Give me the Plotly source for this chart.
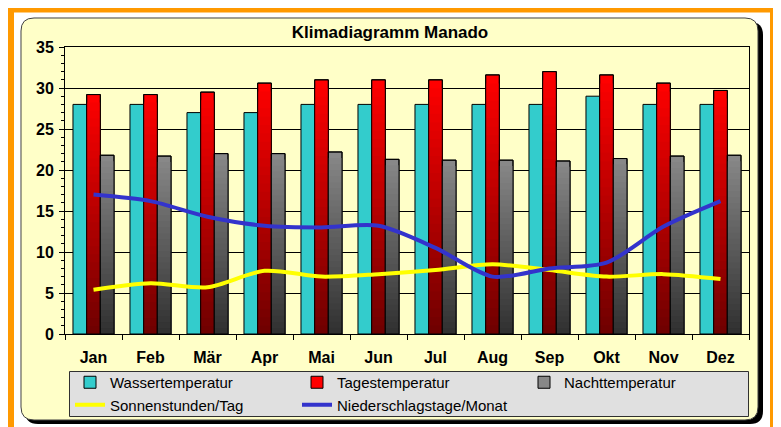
import plotly.graph_objects as go

# ---------------- data ----------------
months = ["Jan", "Feb", "Mär", "Apr", "Mai", "Jun", "Jul", "Aug", "Sep", "Okt", "Nov", "Dez"]
wassertemperatur = [28, 28, 27, 27, 28, 28, 28, 28, 28, 29, 28, 28]
tagestemperatur = [29.2, 29.2, 29.5, 30.6, 31, 31, 31, 31.6, 32, 31.6, 30.6, 29.7]
nachttemperatur = [21.8, 21.7, 22.0, 22.0, 22.2, 21.3, 21.2, 21.2, 21.1, 21.4, 21.7, 21.8]
sonnenstunden = [5.4, 6.2, 5.7, 7.7, 7.0, 7.3, 7.8, 8.5, 7.8, 7.0, 7.3, 6.7]
niederschlagstage = [17.0, 16.2, 14.3, 13.2, 13.0, 13.2, 10.5, 7.0, 8.0, 8.7, 13.1, 16.2]

# ---------------- layout geometry ----------------
# the page body has an 8px margin; design in page pixels and shift
OFF = 8
W, H = 781 - OFF, 427 - OFF
PL, PT, PR, PB = 65, 47, 749, 334  # plot area in page pixels
L, T = PL - OFF, PT - OFF
PW, PH = PR - PL, PB - PT
R, B = W - L - PW, H - T - PH


def px_x(px):
    return (px - PL) / PW


def px_y(py):
    return (PB - py) / PH


def rrect(x0, y0, x1, y1, r):
    pts = [
        ("M", [(x0 + r, y0)]),
        ("L", [(x1 - r, y0)]),
        ("Q", [(x1, y0), (x1, y0 + r)]),
        ("L", [(x1, y1 - r)]),
        ("Q", [(x1, y1), (x1 - r, y1)]),
        ("L", [(x0 + r, y1)]),
        ("Q", [(x0, y1), (x0, y1 - r)]),
        ("L", [(x0, y0 + r)]),
        ("Q", [(x0, y0), (x0 + r, y0)]),
    ]
    s = ""
    for cmd, ps in pts:
        s += cmd + " ".join(f"{px_x(a):.5f},{px_y(b):.5f}" for a, b in ps) + " "
    return s + "Z"


def lerp(c0, c1, f):
    return "rgb(%d,%d,%d)" % tuple(round(a + (b - a) * f) for a, b in zip(c0, c1))


fig = go.Figure()

N = 30


def gradient_bars(name, values, group, top, bottom):
    for k in range(N):
        scale = 1 - k / N
        f = 1 - (k + 0.5) / N  # relative height of visible band
        fig.add_trace(go.Bar(
            x=months, y=[v * scale for v in values], name=name,
            offsetgroup=group, showlegend=(k == 0),
            marker=dict(color=lerp(bottom, top, f) if k else lerp(bottom, top, 1.0),
                        line=dict(color="black", width=1 if k == 0 else 0)),
            hoverinfo="skip" if k else None,
        ))
    # outline on top
    fig.add_trace(go.Bar(
        x=months, y=values, offsetgroup=group, showlegend=False,
        marker=dict(color="rgba(0,0,0,0)", line=dict(color="black", width=1)),
        hoverinfo="skip",
    ))


fig.add_trace(go.Bar(
    x=months, y=wassertemperatur, name="Wassertemperatur", offsetgroup="w",
    marker=dict(color="#33CCCC", line=dict(color="black", width=1)),
))
gradient_bars("Tagestemperatur", tagestemperatur, "t", (255, 0, 0), (110, 0, 0))
gradient_bars("Nachttemperatur", nachttemperatur, "n", (136, 136, 136), (48, 48, 48))

fig.add_trace(go.Scatter(
    x=months, y=sonnenstunden, name="Sonnenstunden/Tag", mode="lines",
    line=dict(color="#FFFF00", width=4, shape="spline", smoothing=0.8),
))
fig.add_trace(go.Scatter(
    x=months, y=niederschlagstage, name="Niederschlagstage/Monat", mode="lines",
    line=dict(color="#3333CC", width=4, shape="spline", smoothing=0.8),
))

shapes = [
    dict(type="rect", xref="paper", yref="paper", layer="below",
         x0=px_x(11), x1=px_x(773), y0=px_y(9.5), y1=px_y(470),
         line=dict(color="#FF9900", width=6), fillcolor="rgba(0,0,0,0)"),
    dict(type="path", xref="paper", yref="paper", layer="below",
         path=rrect(25, 22, 763, 424, 13), fillcolor="black", line=dict(width=0)),
    dict(type="path", xref="paper", yref="paper", layer="below",
         path=rrect(21, 18, 758, 420, 13), fillcolor="#FFFFC8",
         line=dict(color="#404040", width=1)),
    # legend box
    dict(type="rect", xref="paper", yref="paper", layer="below",
         x0=px_x(69.5), x1=px_x(748.5), y0=px_y(371.5), y1=px_y(416.5),
         fillcolor="#E0E0E0", line=dict(color="#303030", width=1)),
]

font_fam = "Liberation Sans, Arial, sans-serif"

fig.update_layout(
    width=W, height=H,
    margin=dict(l=L, r=R, t=T, b=B, pad=0, autoexpand=False),
    paper_bgcolor="white",
    plot_bgcolor="#C0C0C0",
    barmode="group", bargap=0.28, bargroupgap=0,
    shapes=shapes,
    font=dict(family=font_fam, color="black"),
    title=dict(text="<b>Klimadiagramm Manado</b>", x=(390 - OFF) / W, xref="container",
               xanchor="center", y=1 - (32 - OFF) / H, yref="container", yanchor="middle",
               font=dict(size=17, family=font_fam, color="black")),
    showlegend=True,
    legend=dict(orientation="h", x=(70 - OFF) / W, y=1 - (366 - OFF) / H,
                xanchor="left", yanchor="top", xref="container", yref="container",
                bgcolor="rgba(0,0,0,0)", borderwidth=0,
                font=dict(size=15, family=font_fam, color="black"),
                entrywidth=182, traceorder="normal", itemwidth=30),
    xaxis=dict(showline=True, mirror=True, linecolor="black", linewidth=1,
               ticks="outside", tickson="boundaries", ticklen=5, tickcolor="black",
               showgrid=False, ticklabelstandoff=9, automargin=False,
               tickfont=dict(size=16, family=font_fam, color="black", weight="bold")),
    yaxis=dict(range=[0, 35], dtick=5, showline=True, mirror=True, linecolor="black",
               linewidth=1, ticks="outside", ticklen=5, tickcolor="black",
               showgrid=True, gridcolor="black", gridwidth=1, zeroline=False,
               ticklabelstandoff=2, automargin=False,
               minor=dict(dtick=1, ticks="outside", ticklen=3, tickcolor="black", showgrid=False),
               tickfont=dict(size=16, family=font_fam, color="black", weight="bold")),
)

fig.write_html("out.html")
